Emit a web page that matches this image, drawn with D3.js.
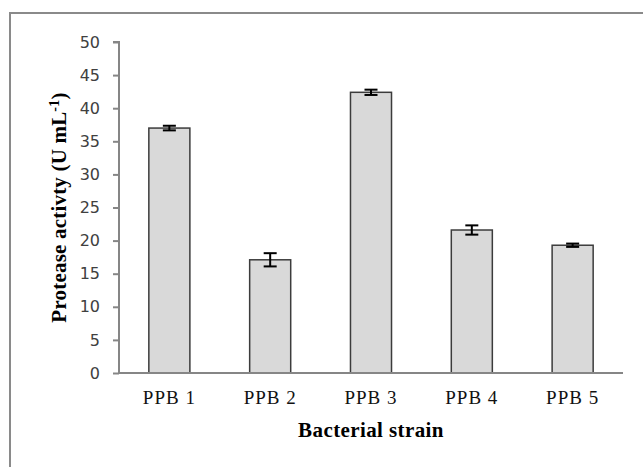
<!doctype html>
<html>
<head>
<meta charset="utf-8"/>
<script src="https://cdnjs.cloudflare.com/ajax/libs/d3/7.8.5/d3.min.js"></script>
<style>
  body { margin: 0; background: #fff; }
  svg { display: block; }
</style>
</head>
<body>
<svg id="chart" width="643" height="467"></svg>
<script>
// values
var strains = ["PPB 1", "PPB 2", "PPB 3", "PPB 4", "PPB 5"];
var activity = [37.0, 17.1, 42.4, 21.6, 19.3];
var errors = [0.35, 1.0, 0.4, 0.7, 0.25];
var yTicks = [0, 5, 10, 15, 20, 25, 30, 35, 40, 45, 50];

var svg = d3.select("#chart");

// outer frame (runs off the right and bottom edges)
svg.append("rect")
  .attr("x", 10).attr("y", 13)
  .attr("width", 700).attr("height", 500)
  .attr("fill", "none")
  .attr("stroke", "#8a8a8a")
  .attr("stroke-width", 2);

var plotLeft = 119, plotRight = 623, plotTop = 42, plotBottom = 373;

var x = d3.scaleBand().domain(strains).range([plotLeft, plotRight])
  .paddingInner(0.593).paddingOuter(0.296);
var y = d3.scaleLinear().domain([0, 50]).range([plotBottom, plotTop]);

// bars
svg.selectAll("rect.bar")
  .data(activity)
  .enter().append("rect")
  .attr("class", "bar")
  .attr("x", (d, i) => x(strains[i]))
  .attr("y", d => y(d))
  .attr("width", x.bandwidth())
  .attr("height", d => y(0) - y(d))
  .attr("fill", "#d9d9d9")
  .attr("stroke", "#3c3c3c")
  .attr("stroke-width", 1.5);

// error bars
var eb = svg.selectAll("g.err")
  .data(activity)
  .enter().append("g")
  .attr("class", "err")
  .attr("stroke", "#000")
  .attr("stroke-width", 2);
var cx = i => x(strains[i]) + x.bandwidth() / 2;
eb.append("line")
  .attr("x1", (d, i) => cx(i))
  .attr("x2", (d, i) => cx(i))
  .attr("y1", (d, i) => y(d + errors[i]))
  .attr("y2", (d, i) => y(d - errors[i]));
eb.append("line")
  .attr("x1", (d, i) => cx(i) - 6.5)
  .attr("x2", (d, i) => cx(i) + 6.5)
  .attr("y1", (d, i) => y(d + errors[i]))
  .attr("y2", (d, i) => y(d + errors[i]));
eb.append("line")
  .attr("x1", (d, i) => cx(i) - 6.5)
  .attr("x2", (d, i) => cx(i) + 6.5)
  .attr("y1", (d, i) => y(d - errors[i]))
  .attr("y2", (d, i) => y(d - errors[i]));

// y axis
var yAxis = svg.append("g")
  .attr("transform", "translate(" + plotLeft + ",0)")
  .call(d3.axisLeft(y).tickValues(yTicks).tickSize(6).tickPadding(13));
yAxis.selectAll("path, line").attr("stroke", "#868686").attr("stroke-width", 2);
yAxis.select("path").attr("d", "M-6," + plotTop + "H0V" + plotBottom);
yAxis.selectAll("text")
  .attr("font-family", "DejaVu Sans, sans-serif")
  .attr("font-size", 16)
  .attr("fill", "#404040");

// x axis
var xAxis = svg.append("g")
  .attr("transform", "translate(0," + plotBottom + ")")
  .call(d3.axisBottom(x).tickSize(0).tickPadding(18));
xAxis.select("path").attr("d", "M" + plotLeft + ",0H" + plotRight)
  .attr("stroke", "#868686").attr("stroke-width", 2);
xAxis.selectAll("text")
  .attr("font-family", "Liberation Serif, Times New Roman, serif")
  .attr("font-size", 19)
  .attr("letter-spacing", 1)
  .attr("fill", "#111");

// axis titles
svg.append("text")
  .attr("x", (plotLeft + plotRight) / 2).attr("y", 437)
  .attr("text-anchor", "middle")
  .attr("font-family", "Liberation Serif, Times New Roman, serif")
  .attr("font-weight", "bold")
  .attr("font-size", 21)
  .attr("letter-spacing", 0.4)
  .text("Bacterial strain");

var yt = svg.append("text")
  .attr("transform", "translate(66," + ((plotTop + plotBottom) / 2) + ") rotate(-90)")
  .attr("text-anchor", "middle")
  .attr("font-family", "Liberation Serif, Times New Roman, serif")
  .attr("font-weight", "bold")
  .attr("font-size", 21)
  .attr("letter-spacing", 0.2);
yt.append("tspan").text("Protease activty (U mL");
yt.append("tspan").attr("dy", -7).attr("font-size", 14).text("-1");
yt.append("tspan").attr("dy", 7).text(")");
</script>
</body>
</html>
